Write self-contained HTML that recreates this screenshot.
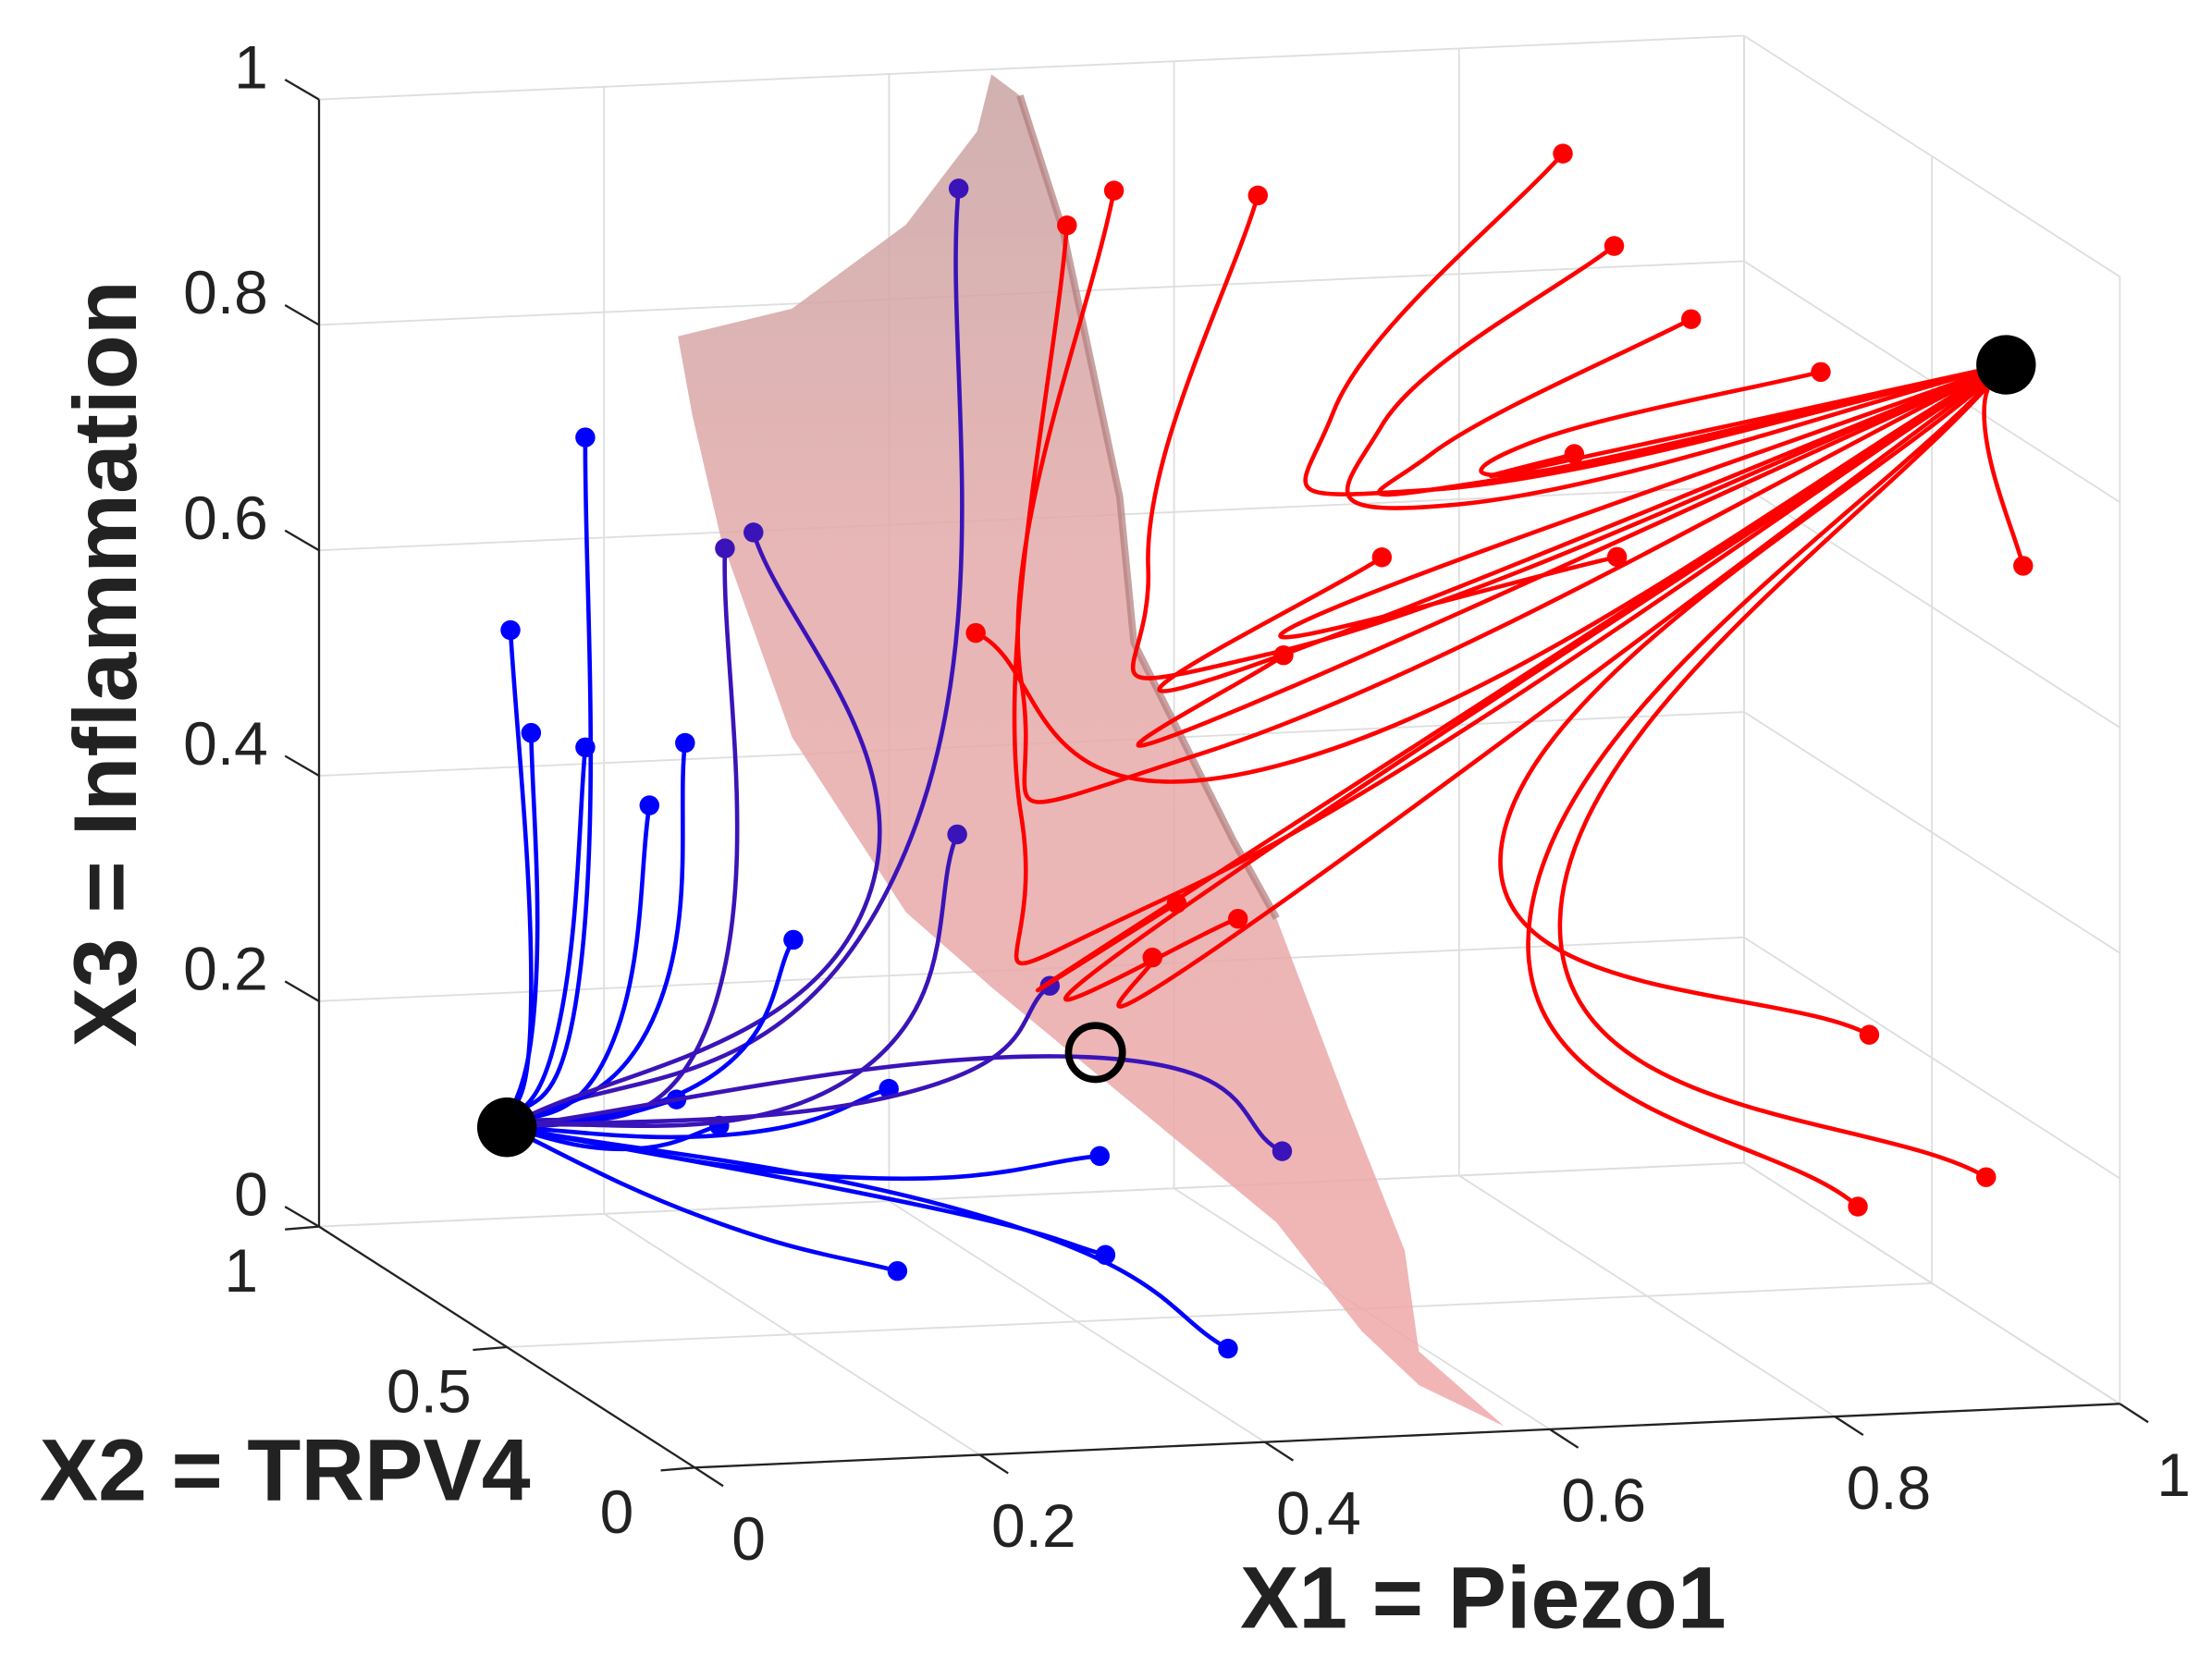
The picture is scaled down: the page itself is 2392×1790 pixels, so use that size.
<!DOCTYPE html>
<html><head><meta charset="utf-8"><style>
html,body{margin:0;padding:0;background:#fff;}
svg{display:block;}
text{font-family:"Liberation Sans",sans-serif;}
</style></head><body>
<svg id="chart" width="2392" height="1790" viewBox="0 0 1560 1167" xmlns="http://www.w3.org/2000/svg">
<defs>
<linearGradient id="surfGrad" x1="0" y1="0" x2="0" y2="1">
<stop offset="0" stop-color="#c9a3a3"/>
<stop offset="0.35" stop-color="#e3a9a9"/>
<stop offset="1" stop-color="#f0a8a8"/>
</linearGradient>
</defs>
<g id="grid"></g>
<g id="axes"></g>
<g id="surface"></g>
<g id="series"></g>
<g id="labels">
<text x="1046" y="1148" font-size="62" font-weight="bold" text-anchor="middle" fill="#222">X1 = Piezo1</text>
<text x="201" y="1058" font-size="62" font-weight="bold" text-anchor="middle" fill="#222">X2 = TRPV4</text>
<text transform="translate(96,468) rotate(-90)" font-size="63" font-weight="bold" text-anchor="middle" fill="#222">X3 = Inflammation</text>
</g>
</svg>
<script>
// ---- data ----
const x1Ticks = [0, 0.2, 0.4, 0.6, 0.8, 1];
const x1TickLabels = ["0", "0.2", "0.4", "0.6", "0.8", "1"];
const x2Ticks = [0, 0.5, 1];
const x2TickLabels = ["0", "0.5", "1"];
const x3Ticks = [0, 0.2, 0.4, 0.6, 0.8, 1];
const x3TickLabels = ["0", "0.2", "0.4", "0.6", "0.8", "1"];

const blueSink = [0, 0.5, 0.195];
const redSink = [1.052, 0.5, 0.812];
const saddle = [0.413, 0.5, 0.238];

const blueStartX1 = [.317,.055,.0025,.017,.055,.10,.125,.153,.173,.201,.119,.149,.268,.316,.381,.416,.420,.506,.274,.544];
const blueStartX3 = [1.01,.804,.636,.544,.529,.475,.529,.70,.713,.35,.213,.188,.214,.437,.299,.146,.058,-.03,.052,.143];
const blueViaX1 = [.271,.052,.017,.020,.037,.072,.102,.142,.251,.142,.062,.082,.162,.241,.281,.241,.291,.341,.142,.40];
const blueViaX3 = [.40,.337,.313,.313,.287,.26,.284,.281,.376,.231,.198,.171,.18,.225,.21,.137,.109,.094,.105,.235];
const bluePurple = [1,0,0,0,0,0,0,1,1,0,0,0,0,1,1,0,0,0,0,1];

const redStartX1 = [.741,.777,.831,.922,.749,.527,.426,.393,.614,.779,.545,.329,.470,.513,.453,.956,1.038,.948,1.064];
const redStartX3 = [1.017,.933,.865,.813,.75,.992,1.002,.973,.666,.657,.583,.615,.367,.351,.32,.223,.092,.071,.633];
const redViaX1 = [.580,.614,.649,.724,.719,.450,.361,.361,.490,.555,.490,.540,.430,.440,.510,.699,.739,.719,1.037];
const redViaX3 = [.797,.783,.756,.764,.739,.666,.57,.45,.563,.61,.526,.485,.34,.334,.336,.413,.336,.349,.759];
// second waypoint (loop return); null-like marker -1 means none
const redVia2X1 = [.649,.669,.679,.739,-1,.54,.49,.47,-1,-1,-1,-1,-1,-1,-1,-1,-1,-1,-1];
const redVia2X3 = [.724,.71,.728,.738,-1,.586,.50,.376,-1,-1,-1,-1,-1,-1,-1,-1,-1,-1,-1];

const surfX1 = [.12,.20,.28,.33,.34,.36,.39,.43,.44,.51,.54,.59,.63,.64,.70,.64,.60,.54,.44,.34,.28,.20,.15,.13];
const surfX3 = [.89,.91,.98,1.06,1.11,1.09,.97,.73,.60,.42,.35,.18,.05,-.04,-.11,-.07,-.02,.08,.19,.30,.37,.53,.71,.82];

// ---- projection ----
const O = [490, 1035];
function P(x1, x2, x3) {
  return [O[0] + x1 * 1005 - x2 * 265, O[1] - x1 * 45 - x2 * 170 - x3 * 795];
}
const NS = "http://www.w3.org/2000/svg";
function mk(tag, attrs, parent) {
  const e = document.createElementNS(NS, tag);
  for (const k in attrs) e.setAttribute(k, attrs[k]);
  parent.appendChild(e);
  return e;
}
function line(a, b, stroke, w, parent, name) {
  const e = mk("line", {x1: a[0], y1: a[1], x2: b[0], y2: b[1], stroke: stroke, "stroke-width": w}, parent);
  
  
  return e;
}
const grid = document.getElementById("grid");
const axes = document.getElementById("axes");
const gc = "#dedede";
x1Ticks.forEach(t => { line(P(t, 1, 0), P(t, 1, 1), gc, 1.2, grid, "grid-back-x1"); });
x3Ticks.forEach(t => { line(P(0, 1, t), P(1, 1, t), gc, 1.2, grid, "grid-back-x3"); });
x2Ticks.forEach(t => { line(P(1, t, 0), P(1, t, 1), gc, 1.2, grid, "grid-right-x2"); });
x3Ticks.forEach(t => { line(P(1, 0, t), P(1, 1, t), gc, 1.2, grid, "grid-right-x3"); });
x1Ticks.forEach(t => { line(P(t, 0, 0), P(t, 1, 0), gc, 1.2, grid, "grid-floor-x1"); });
x2Ticks.forEach(t => { line(P(0, t, 0), P(1, t, 0), gc, 1.2, grid, "grid-floor-x2"); });
line(P(0, 1, 0), P(0, 1, 1), "#222", 1.5, axes, "x3-axis-line");
line(P(0, 0, 0), P(0, 1, 0), "#222", 1.5, axes, "x2-axis-line");
line(P(0, 0, 0), P(1, 0, 0), "#222", 1.5, axes, "x1-axis-line");
x3Ticks.forEach((t, i) => {
  const p = P(0, 1, t);
  line(p, [p[0] - 24, p[1] - 14], "#222", 1.5, axes, "x3-tick");
  const tx = mk("text", {x: p[0] - 36, y: p[1] - 8, "font-size": 43, "text-anchor": "end", fill: "#222"}, axes);
  
  
  tx.textContent = x3TickLabels[i];
});
x2Ticks.forEach((t, i) => {
  const p = P(0, t, 0);
  line(p, [p[0] - 24, p[1] + 2], "#222", 1.5, axes, "x2-tick");
  const tx = mk("text", {x: p[0] - 55, y: p[1] + 46, "font-size": 43, "text-anchor": "middle", fill: "#222"}, axes);
  
  
  tx.textContent = x2TickLabels[i];
});
x1Ticks.forEach((t, i) => {
  const p = P(t, 0, 0);
  line(p, [p[0] + 20, p[1] + 13], "#222", 1.5, axes, "x1-tick");
  const tx = mk("text", {x: p[0] + 38, y: p[1] + 65, "font-size": 43, "text-anchor": "middle", fill: "#222"}, axes);
  
  
  tx.textContent = x1TickLabels[i];
});
const sg = document.getElementById("surface");
const sp = surfX1.map((v, i) => P(v, 0.5, surfX3[i]));
const poly = mk("polygon", {points: sp.map(p => p.join(",")).join(" "), fill: "url(#surfGrad)", "fill-opacity": 0.85, stroke: "none"}, sg);


const ridge = mk("polyline", {points: [sp[5], sp[6], sp[7], sp[8], sp[9], sp[10]].map(p => p.join(",")).join(" "), fill: "none", stroke: "#b07a7a", "stroke-width": 5, "stroke-opacity": 0.7}, sg);



const ser = document.getElementById("series");
function cr(pts) {
  let d = "M" + pts[0][0] + "," + pts[0][1];
  for (let i = 0; i < pts.length - 1; i++) {
    const p0 = pts[i - 1] || pts[i], p1 = pts[i], p2 = pts[i + 1], p3 = pts[i + 2] || pts[i + 1];
    const c1 = [p1[0] + (p2[0] - p0[0]) / 4, p1[1] + (p2[1] - p0[1]) / 4];
    const c2 = [p2[0] - (p3[0] - p1[0]) / 4, p2[1] - (p3[1] - p1[1]) / 4];
    d += " C" + c1.join(",") + " " + c2.join(",") + " " + p2.join(",");
  }
  return d;
}
const bs = P(...blueSink), rs = P(...redSink);
blueStartX1.forEach((v, i) => {
  const s = P(v, 0.5, blueStartX3[i]), m = P(blueViaX1[i], 0.5, blueViaX3[i]);
  const col = bluePurple[i] ? "#3a14b8" : "#0000ff";
  const path = mk("path", {d: cr([s, m, bs]), fill: "none", stroke: col, "stroke-width": 3}, ser);
  
  
  const c = mk("circle", {cx: s[0], cy: s[1], r: 7, fill: col}, ser);
  
  
});
redStartX1.forEach((v, i) => {
  const s = P(v, 0.5, redStartX3[i]), m = P(redViaX1[i], 0.5, redViaX3[i]);
  const pts = [s, m];
  if (redVia2X1[i] >= 0) pts.push(P(redVia2X1[i], 0.5, redVia2X3[i]));
  pts.push(rs);
  const path = mk("path", {d: cr(pts), fill: "none", stroke: "#ff0000", "stroke-width": 3}, ser);
  
  
  const c = mk("circle", {cx: s[0], cy: s[1], r: 7, fill: "#ff0000"}, ser);
  
  
});
let e;
e = mk("circle", {cx: bs[0], cy: bs[1], r: 21, fill: "#000"}, ser);


e = mk("circle", {cx: rs[0], cy: rs[1], r: 21, fill: "#000"}, ser);


const sd = P(...saddle);
e = mk("circle", {cx: sd[0], cy: sd[1], r: 19, fill: "none", stroke: "#000", "stroke-width": 5}, ser);


</script>
</body></html>
